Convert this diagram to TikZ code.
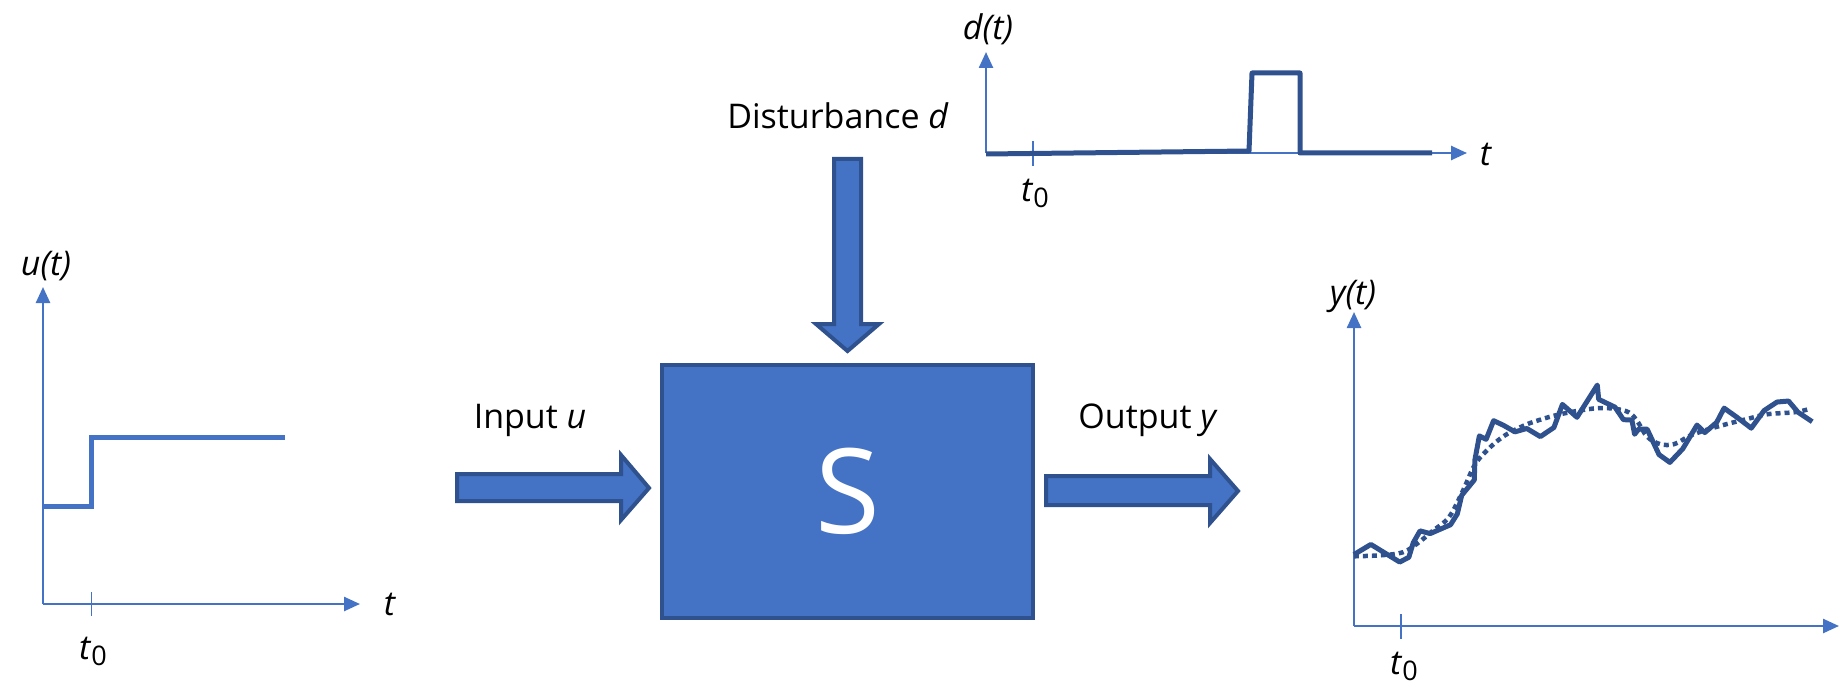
\documentclass[tikz,border=0pt]{standalone}
\usepackage{fontspec}
\setmainfont{Open Sans}
\usetikzlibrary{arrows.meta}
\definecolor{blockfill}{HTML}{4472C4}
\definecolor{blockedge}{HTML}{2F528F}
\newcommand{\tzero}{\textit{t}\raisebox{-6pt}{\fontsize{27}{27}\selectfont 0}}
\tikzset{
  lbl/.style={font=\fontsize{34}{40}\selectfont, inner sep=0pt, anchor=base},
  axis/.style={draw=blockfill, line width=2.5pt, -{Triangle[length=16pt,width=14pt]}},
  tick/.style={draw=blockfill, line width=1.5pt},
  blockarrow/.style={draw=blockedge, fill=blockfill, line width=4pt, line join=miter},
  signal/.style={draw=blockedge, line width=5pt, line join=round},
}
\begin{document}
\begin{tikzpicture}[x=1pt,y=-1pt]
\useasboundingbox (0,0) rectangle (1846,687);

% ---- system block
\node[draw=blockedge, fill=blockfill, line width=4pt, minimum width=371pt,
      minimum height=253pt, inner sep=0pt, text=white,
      font=\fontsize{118}{118}\selectfont] (S) at (847.5,491.5) {S};

% ---- block arrows
\draw[blockarrow] (834,159) -- (861,159) -- (861,324) -- (879,324) -- (847.5,351)
      -- (816,324) -- (834,324) -- cycle;
\draw[blockarrow] (457,474) -- (621,474) -- (621,455) -- (649,488) -- (621,520)
      -- (621,501) -- (457,501) -- cycle;
\draw[blockarrow] (1046,476) -- (1210,476) -- (1210,459) -- (1238,491) -- (1210,523)
      -- (1210,505) -- (1046,505) -- cycle;

% ---- labels of the block arrows
\node[lbl] (dlab) at (838,129) {Disturbance \textit{d}};
\node[lbl] (ulab) at (530,428) {Input \textit{u}};
\node[lbl] (ylab) at (1148,428) {Output \textit{y}};

% ---- input u(t)
\coordinate (uo) at (43,604);
\draw[axis] (uo) -- (43,287);
\draw[axis] (uo) -- (360,604);
\draw[tick] (91.5,592) -- (91.5,616);
\draw[draw=blockfill, line width=5pt] (uo |- 0,506) -- (91.5,506) -- (91.5,437) -- (285,437);
\node[lbl] (uy) at (46,275) {\textit{u(t)}};
\node[lbl] (ut) at (390,615) {\textit{t}};
\node[lbl] (ut0) at (93,659) {\tzero};

% ---- disturbance d(t)
\coordinate (do) at (986,153);
\draw[axis] (do) -- (986,52);
\draw[axis] (do) -- (1467,153);
\draw[tick] (1033,141) -- (1033,166);
\draw[signal] (986,154) -- (1249,151) -- (1252,73) -- (1300,73) -- (1300,153) -- (1432,153);
\node[lbl] (dy) at (988,40) {\textit{d(t)}};
\node[lbl] (dt) at (1486,166) {\textit{t}};
\node[lbl] (dt0) at (1035,201) {\tzero};

% ---- output y(t)
\coordinate (yo) at (1354,626);
\draw[axis] (yo) -- (1354,312);
\draw[axis] (yo) -- (1839,626);
\draw[tick] (1401,614) -- (1401,639);
\node[lbl] (yy) at (1353,304) {\textit{y(t)}};
\node[lbl] (yt0) at (1404,674) {\tzero};
\begin{scope}[shift={(1320,280)}, scale=0.339]
  % measured response
  \draw[signal] (100,810) -- (150,780) -- (235,832) -- (262,818) -- (275,775)
    -- (295,740) -- (325,748) -- (385,722) -- (405,690) -- (418,635) -- (455,590)
    -- (457,530) -- (470,460) -- (490,470) -- (512,415) -- (540,428) -- (575,448)
    -- (610,438) -- (650,462) -- (690,435) -- (715,367) -- (758,405) -- (818,310)
    -- (822,352) -- (870,375) -- (895,412) -- (920,413) -- (928,455) -- (940,440)
    -- (965,440) -- (1000,515) -- (1032,538) -- (1070,498) -- (1112,428)
    -- (1135,450) -- (1170,420) -- (1192,378) -- (1230,405) -- (1272,437)
    -- (1310,385) -- (1348,360) -- (1382,357) -- (1410,390) -- (1452,418);
  % smoothed trend
  \draw[draw=blockedge, line width=4.5pt, dash pattern=on 5pt off 4pt]
    plot[smooth, tension=0.6] coordinates {(100,815) (180,812) (245,803) (290,775)
    (330,742) (380,700) (420,625) (455,548) (490,505) (540,462) (600,430)
    (650,412) (700,398) (760,386) (820,378) (870,380) (910,390) (935,415)
    (965,462) (1003,484) (1045,484) (1090,460) (1140,442) (1200,425)
    (1260,410) (1320,396) (1400,390) (1445,380)};
\end{scope}
\end{tikzpicture}
\end{document}
